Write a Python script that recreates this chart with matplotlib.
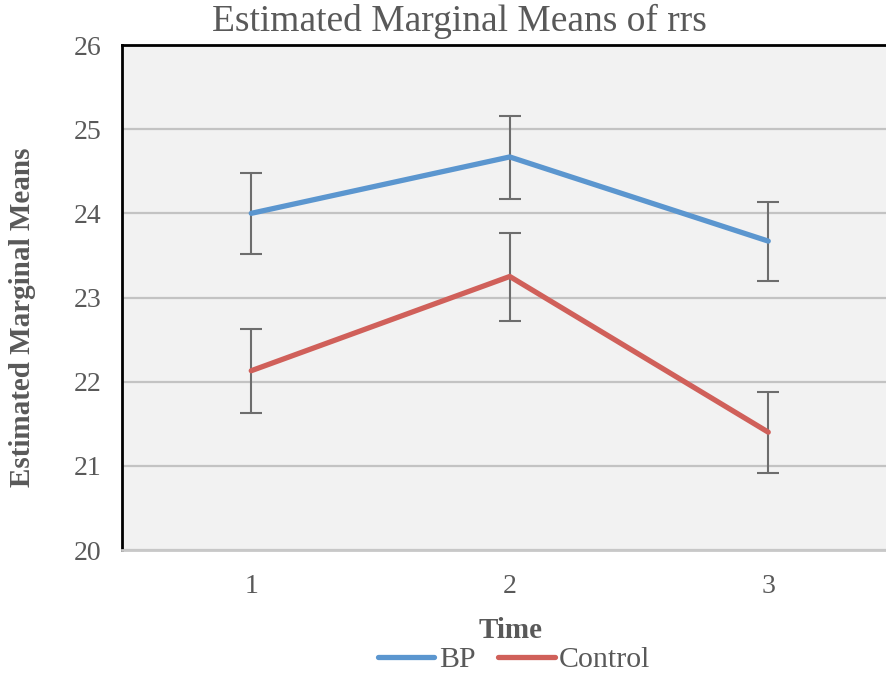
import matplotlib
matplotlib.use("Agg")
import matplotlib.pyplot as plt
from matplotlib.lines import Line2D

# Estimated marginal means of rrs by Time
time = [1, 2, 3]
bp_mean = [24.00, 24.67, 23.67]
bp_lo = [23.52, 24.17, 23.20]
bp_hi = [24.48, 25.16, 24.13]
ctl_mean = [22.13, 23.25, 21.40]
ctl_lo = [21.63, 22.72, 20.92]
ctl_hi = [22.62, 23.77, 21.88]

plt.rcParams['font.family'] = ['Liberation Serif', 'DejaVu Serif']
txt = '#595959'

fig = plt.figure(figsize=(8.87, 6.73), dpi=100)
ax = fig.add_axes([122 / 887, 1 - 550 / 673, 775.5 / 887, 505 / 673])
ax.set_facecolor('#f2f2f2')

for mean, lo, hi, col, name in [(bp_mean, bp_lo, bp_hi, '#5b96cf', 'BP'),
                                 (ctl_mean, ctl_lo, ctl_hi, '#d0605a', 'Control')]:
    yerr = [[m - l for m, l in zip(mean, lo)], [h - m for m, h in zip(mean, hi)]]
    ax.errorbar(time, mean, yerr=yerr, fmt='none', ecolor='#6d6d6d',
                elinewidth=1.5, capsize=8, capthick=1.5, zorder=3)
    ax.plot(time, mean, color=col, lw=3.8, solid_capstyle='round', zorder=4)

ax.set_xlim(0.5, 3.5)
ax.set_ylim(20, 26)
ax.set_xticks(time)
ax.set_yticks(range(20, 27))
ax.yaxis.grid(True, color='#c3c3c3', lw=1.6)
ax.set_axisbelow(True)
ax.tick_params(length=0, labelsize=20, colors=txt)
ax.tick_params(axis='y', pad=15)
ax.tick_params(axis='x', pad=17)

ax.spines['left'].set_color('black')
ax.spines['left'].set_linewidth(2)
ax.spines['top'].set_color('black')
ax.spines['top'].set_linewidth(2)
ax.spines['bottom'].set_color('#c8c8c8')
ax.spines['bottom'].set_linewidth(2)
ax.spines['right'].set_visible(False)

fig.text(459 / 887, 1 - 21 / 673, 'Estimated Marginal Means of rrs', ha='center',
         va='center', fontsize=27, color=txt)
fig.text(23 / 887, 1 - 317 / 673, 'Estimated Marginal Means', rotation=90,
         ha='center', va='center', fontsize=21, fontweight='bold', color=txt)
fig.text(511 / 887, 1 - 630 / 673, 'Time', ha='center', va='center',
         fontsize=21, fontweight='bold', color=txt)

handles = [Line2D([], [], color='#5b96cf', lw=3.8, solid_capstyle='round'),
           Line2D([], [], color='#d0605a', lw=3.8, solid_capstyle='round')]
fig.legend(handles, ['BP', 'Control'], loc='center', bbox_to_anchor=(514 / 887, 1 - 660 / 673),
           ncol=2, frameon=False, fontsize=21.5, labelcolor=txt, handlelength=1.9,
           handletextpad=0.15, columnspacing=0.75, borderpad=0, borderaxespad=0)

fig.savefig('out.png', dpi=100)
